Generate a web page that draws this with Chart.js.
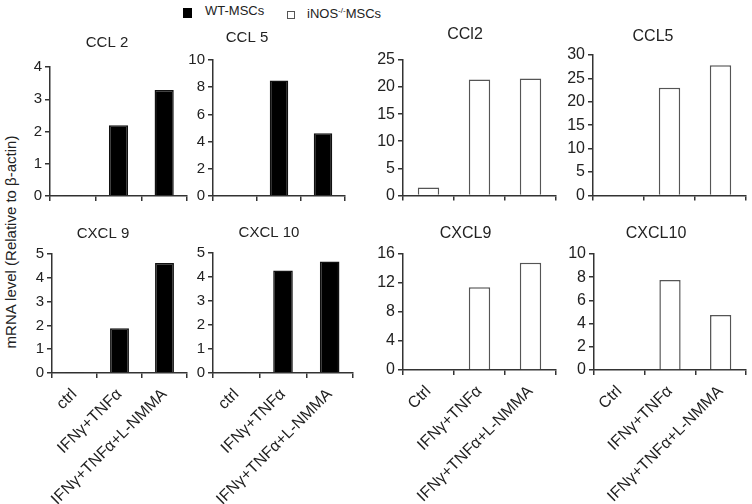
<!DOCTYPE html>
<html>
<head>
<meta charset="utf-8">
<script src="https://cdn.jsdelivr.net/npm/chart.js@4.4.0/dist/chart.umd.min.js"></script>
<style>
  body { margin: 0; background: #fff; width: 752px; height: 504px; position: relative; overflow: hidden;
         font-family: "Liberation Sans", Arial, sans-serif; color: #222; }
  .panel { position: absolute; }
  #legend { position: absolute; left: 0; top: 3px; font-size: 13px; line-height: 16px; }
  #legend span { position: absolute; white-space: nowrap; top: 0; }
  .sw { display: inline-block; box-sizing: border-box; }
  #ylab { position: absolute; left: 10px; top: 242px; font-size: 15px; white-space: nowrap;
          transform: translate(-50%, -50%) rotate(-90deg); }
</style>
</head>
<body>
<div id="legend">
  <span style="left:183px;top:3px"><i class="sw" style="width:9px;height:10px;background:#000"></i></span>
  <span style="left:205px">WT-MSCs</span>
  <span style="left:287px;top:4px"><i class="sw" style="width:8px;height:8px;border:1px solid #555"></i></span>
  <span style="left:307px">iNOS<sup style="font-size:8px">-/-</sup>MSCs</span>
</div>
<div id="ylab">mRNA level (Relative to β-actin)</div>

<script>
// treatment groups on the x axis
const groupsWt = ['ctrl', 'IFNγ+TNFα', 'IFNγ+TNFα+L-NMMA'];
const groupsKo = ['Ctrl', 'IFNγ+TNFα', 'IFNγ+TNFα+L-NMMA'];

// WT-MSCs
const wtCcl2 = [0.03, 2.19, 3.29];
const wtCcl5 = [0.05, 8.49, 4.62];
const wtCxcl9 = [0.04, 1.88, 4.62];
const wtCxcl10 = [0.04, 4.27, 4.65];

// iNOS-/- MSCs
const koCcl2 = [1.45, 21.4, 21.6];
const koCcl5 = [0.15, 23.0, 27.8];
const koCxcl9 = [0.08, 11.4, 14.8];
const koCxcl10 = [0.05, 7.76, 4.74];

// y axis ranges: [max, step]
const yWtCcl2 = [4, 1], yWtCcl5 = [10, 2], yKoCcl2 = [25, 5], yKoCcl5 = [30, 5];
const yWtCxcl9 = [5, 1], yWtCxcl10 = [5, 1], yKoCxcl9 = [16, 4], yKoCxcl10 = [10, 2];

Chart.defaults.font.family = '"Liberation Sans", Arial, sans-serif';
Chart.defaults.color = '#222';

const panels = [
  { title: 'CCL 2', labels: groupsWt, values: wtCcl2, y: yWtCcl2, wt: true, row: 0,
    box: { pl: 50, pr: 187, pt: 67, pb: 199.5, tx: 107, ty: 43 } },
  { title: 'CCL 5', labels: groupsWt, values: wtCcl5, y: yWtCcl5, wt: true, row: 0,
    box: { pl: 213, pr: 345, pt: 60, pb: 199.5, tx: 247, ty: 38 } },
  { title: 'CCl2', labels: groupsKo, values: koCcl2, y: yKoCcl2, wt: false, row: 0,
    box: { pl: 403, pr: 556, pt: 60, pb: 199.5, tx: 465, ty: 35 } },
  { title: 'CCL5', labels: groupsKo, values: koCcl5, y: yKoCcl5, wt: false, row: 0,
    box: { pl: 593, pr: 746, pt: 55, pb: 199.5, tx: 653, ty: 37 } },
  { title: 'CXCL 9', labels: groupsWt, values: wtCxcl9, y: yWtCxcl9, wt: true, row: 1,
    box: { pl: 52, pr: 187, pt: 254, pb: 373, tx: 103, ty: 234 } },
  { title: 'CXCL 10', labels: groupsWt, values: wtCxcl10, y: yWtCxcl10, wt: true, row: 1,
    box: { pl: 213, pr: 353, pt: 253, pb: 373, tx: 269, ty: 233 } },
  { title: 'CXCL9', labels: groupsKo, values: koCxcl9, y: yKoCxcl9, wt: false, row: 1,
    box: { pl: 403, pr: 556, pt: 254, pb: 370, tx: 469, ty: 234 } },
  { title: 'CXCL10', labels: groupsKo, values: koCxcl10, y: yKoCxcl10, wt: false, row: 1,
    box: { pl: 594, pr: 746, pt: 254, pb: 370, tx: 661, ty: 234 } }
];

const axisColor = '#333';

panels.forEach(p => {
  const b = p.box;
  const titleSize = p.wt ? 15 : 16;
  const titleLine = titleSize * 1.2;
  const tickSize = p.wt ? 15 : 16;
  // y labels are clipped to the axis box, so keep it wide enough
  const minYW = String(p.y[0]).length * 0.56 * tickSize + 10;
  // title is centred over the layout box: pick its left edge from the title position
  const base = Math.min(2 * b.tx - b.pr, b.pl - minYW);
  const left = Math.floor(Math.min(base, b.pl - 40));
  const padL = base - left;
  const yW = b.pl - base;
  const top = Math.floor(b.ty - 2 - titleLine / 2);
  const xH = p.row ? 504 - b.pb : 8;
  const w = Math.ceil(b.pr + 3 - left);
  const h = Math.ceil(b.pb + xH - top);
  const padB = b.pt - top - 2 - titleLine;

  const div = document.createElement('div');
  div.className = 'panel';
  div.style.left = left + 'px';
  div.style.top = top + 'px';
  const cv = document.createElement('canvas');
  cv.width = w; cv.height = h;
  cv.style.width = w + 'px'; cv.style.height = h + 'px';
  div.appendChild(cv);
  document.body.appendChild(div);

  new Chart(cv, {
    type: 'bar',
    data: {
      labels: p.labels,
      datasets: [{
        label: p.wt ? 'WT-MSCs' : 'iNOS-/-MSCs',
        data: p.values,
        backgroundColor: p.wt ? '#000' : '#fff',
        borderColor: p.wt ? '#111' : '#555',
        borderWidth: 1.5,
        barPercentage: 0.42,
        categoryPercentage: 1
      }]
    },
    options: {
      responsive: false,
      animation: false,
      devicePixelRatio: 1,
      layout: { padding: { left: padL, right: w - (b.pr - left), top: 0, bottom: 0 } },
      plugins: {
        legend: { display: false },
        tooltip: { enabled: false },
        title: {
          display: true, text: p.title, color: '#222',
          font: { size: titleSize, weight: 'normal' },
          padding: { top: 2, bottom: padB }
        }
      },
      scales: {
        x: {
          grid: { offset: true, drawOnChartArea: false, drawTicks: true, tickLength: 5, color: axisColor, lineWidth: 1.5 },
          border: { color: axisColor, width: 1.5 },
          ticks: { display: p.row === 1, minRotation: 45, maxRotation: 45, autoSkip: false,
                   font: { size: 16 }, color: '#222', padding: 7 },
          afterFit: s => { s.height = xH; }
        },
        y: {
          min: 0, max: p.y[0],
          ticks: { stepSize: p.y[1], font: { size: tickSize }, color: '#222', padding: 3 },
          grid: { drawOnChartArea: false, tickLength: 5, color: axisColor, lineWidth: 1.5 },
          border: { color: axisColor, width: 1.5 },
          afterFit: s => { s.width = yW; }
        }
      }
    }
  });
});
</script>
</body>
</html>
